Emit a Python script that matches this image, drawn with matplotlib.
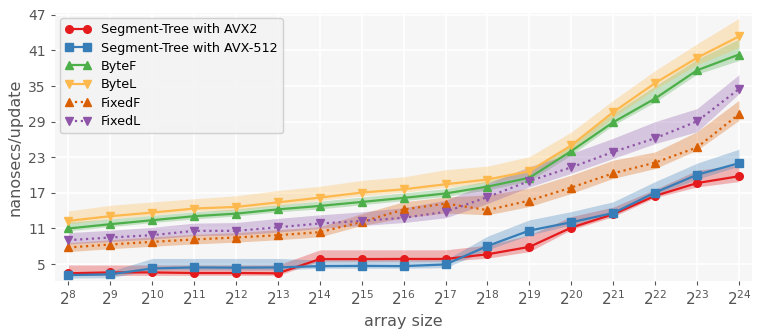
import numpy as np
import matplotlib
matplotlib.use('Agg')
import matplotlib.pyplot as plt

# array sizes 2^8 .. 2^24
exps = list(range(8, 25))
sizes = [2 ** e for e in exps]

# Segment-Tree with AVX2
avx2 = [3.45, 3.6, 3.6, 3.5, 3.5, 3.45, 5.85, 5.85, 5.87, 5.87, 6.65, 7.9, 11.15, 13.4, 16.5, 18.65, 19.8]
avx2_lo = [3.1, 3.1, 3.1, 3.1, 3.1, 3.1, 5.5, 5.5, 5.5, 5.5, 6.0, 7.1, 10.8, 13.0, 16.2, 18.0, 18.9]
avx2_hi = [4.85, 4.85, 4.85, 4.85, 4.85, 4.85, 7.4, 7.4, 7.4, 7.4, 8.2, 9.9, 13.0, 14.6, 17.6, 20.8, 21.7]

# Segment-Tree with AVX-512
avx512 = [3.15, 3.27, 4.27, 4.44, 4.4, 4.44, 4.66, 4.7, 4.66, 4.94, 8.05, 10.65, 12.05, 13.6, 17.05, 20.05, 22.0]
avx512_lo = [2.65, 2.7, 4.0, 4.0, 4.0, 4.0, 4.3, 4.3, 4.3, 4.4, 7.4, 9.9, 11.6, 13.2, 16.6, 19.3, 21.5]
avx512_hi = [3.75, 3.8, 5.95, 5.95, 5.95, 5.95, 5.7, 5.7, 5.7, 5.7, 9.7, 12.45, 13.85, 15.5, 18.9, 22.0, 24.35]

# ByteF
bytef = [11.0, 11.72, 12.39, 13.07, 13.5, 14.22, 14.8, 15.47, 16.15, 16.9, 18.05, 19.55, 24.05, 28.9, 32.9, 37.65, 40.3]
bytef_lo = [10.6, 11.3, 12.0, 12.6, 13.1, 13.8, 14.3, 15.0, 15.7, 16.4, 17.5, 19.0, 23.4, 28.4, 32.3, 37.0, 39.3]
bytef_hi = [12.1, 12.6, 13.2, 13.8, 14.3, 15.0, 15.6, 16.3, 17.0, 17.7, 19.0, 20.7, 25.3, 30.4, 35.0, 39.5, 42.9]

# ByteL
bytel = [12.28, 13.07, 13.68, 14.36, 14.63, 15.4, 16.2, 17.05, 17.6, 18.45, 19.25, 20.65, 25.0, 30.6, 35.5, 39.75, 43.35]
bytel_lo = [11.8, 12.6, 13.2, 13.9, 14.1, 14.9, 15.7, 16.5, 17.1, 17.9, 18.7, 20.0, 24.3, 29.7, 34.5, 38.6, 41.5]
bytel_hi = [13.96, 14.9, 15.47, 16.0, 16.5, 17.4, 18.1, 19.1, 19.7, 20.9, 21.5, 23.1, 27.25, 32.6, 37.6, 42.1, 46.4]

# FixedF
fixedf = [7.8, 8.3, 8.75, 9.15, 9.48, 9.87, 10.38, 12.1, 14.2, 15.2, 14.1, 15.7, 17.9, 20.3, 22.1, 24.66, 30.25]
fixedf_lo = [7.1, 7.6, 8.0, 8.4, 8.7, 9.1, 9.6, 11.5, 12.8, 13.6, 13.3, 14.7, 16.9, 19.45, 21.1, 24.2, 29.2]
fixedf_hi = [8.6, 9.1, 9.6, 10.0, 10.3, 10.8, 11.3, 13.5, 15.5, 16.3, 16.65, 17.8, 20.0, 22.5, 23.9, 27.3, 32.6]

# FixedL
fixedl = [9.03, 9.48, 9.87, 10.6, 10.6, 11.2, 11.84, 12.28, 12.8, 13.8, 16.3, 19.0, 21.3, 23.9, 26.2, 29.05, 34.5]
fixedl_lo = [8.4, 8.8, 9.2, 9.8, 9.9, 10.4, 11.0, 11.5, 12.0, 12.8, 15.2, 18.0, 20.3, 22.8, 25.3, 27.3, 33.7]
fixedl_hi = [10.3, 10.7, 11.2, 11.9, 12.0, 12.7, 13.3, 13.8, 14.5, 15.75, 18.6, 21.4, 23.65, 26.2, 29.0, 31.2, 36.9]

yticks = [5, 11, 17, 23, 29, 35, 41, 47]

series = [
    ('Segment-Tree with AVX2', avx2, avx2_lo, avx2_hi, '#e41a1c', 'o', '-'),
    ('Segment-Tree with AVX-512', avx512, avx512_lo, avx512_hi, '#377eb8', 's', '-'),
    ('ByteF', bytef, bytef_lo, bytef_hi, '#4daf4a', '^', '-'),
    ('ByteL', bytel, bytel_lo, bytel_hi, '#fdb94d', 'v', '-'),
    ('FixedF', fixedf, fixedf_lo, fixedf_hi, '#d95f02', '^', ':'),
    ('FixedL', fixedl, fixedl_lo, fixedl_hi, '#8e55a8', 'v', ':'),
]

plt.rcParams['font.family'] = 'DejaVu Sans'

fig = plt.figure(figsize=(7.63, 3.33), dpi=100)
ax = fig.add_axes([0.072, 0.157, 0.913, 0.804])
ax.set_facecolor('#f6f6f6')

for label, mean, lo, hi, color, marker, ls in series:
    ax.fill_between(sizes, lo, hi, color=color, alpha=0.3, linewidth=0)
    ax.plot(sizes, mean, color=color, marker=marker, linestyle=ls, linewidth=1.6,
            markersize=5.5, label=label)

ax.set_xscale('log', base=2)
ax.set_xticks(sizes)
ax.minorticks_off()
ax.set_xlim(2 ** 7.68, 2 ** 24.3)
ax.set_ylim(2.2, 47.3)
ax.set_yticks(yticks)

ax.grid(True, color='white', linewidth=1.2)
ax.set_axisbelow(True)
for s in ax.spines.values():
    s.set_visible(False)
ax.tick_params(colors='#555555', labelsize=10, length=3, width=0.8)
ax.tick_params(axis='x', labelsize=11)

ax.set_xlabel('array size', fontsize=11.5, color='#555555')
ax.set_ylabel('nanosecs/update', fontsize=11.5, color='#555555')

leg = ax.legend(loc='upper left', numpoints=2, fontsize=9.2, labelspacing=0.42,
                frameon=True, fancybox=True, borderaxespad=0.4)
leg.get_frame().set_facecolor('#f3f3f3')
leg.get_frame().set_edgecolor('#cccccc')
leg.get_frame().set_alpha(0.9)

fig.savefig('out.png', dpi=100, facecolor='white')
